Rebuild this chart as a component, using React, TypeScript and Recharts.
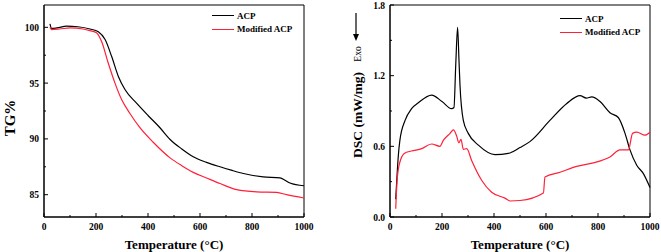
import { LineChart, Line, XAxis, YAxis, ReferenceArea } from 'recharts';

const FONT = '"Liberation Serif", "Times New Roman", serif';
const RED = '#ff2038';

// TG curves
const tgAcpTemp = [23, 29, 50, 87, 130, 177, 209, 235, 260, 286, 312, 356, 400, 446, 485, 530, 574, 625, 677, 720, 767, 843, 908, 927, 946, 1000];
const tgAcp = [100.3, 99.9, 99.95, 100.1, 100.05, 99.85, 99.6, 98.9, 97.4, 95.6, 94.4, 93.2, 92.1, 91.0, 89.95, 89.1, 88.4, 87.9, 87.5, 87.2, 86.9, 86.6, 86.5, 86.3, 86.05, 85.8];
const tgModTemp = [23, 29, 60, 100, 150, 177, 203, 222, 247, 273, 299, 330, 369, 420, 485, 530, 574, 625, 677, 741, 818, 895, 933, 1000];
const tgMod = [100.0, 99.8, 99.85, 99.95, 99.85, 99.7, 99.5, 98.7, 96.8, 95.0, 93.5, 92.3, 91.0, 89.7, 88.3, 87.6, 87.0, 86.5, 86.0, 85.45, 85.25, 85.2, 85.0, 84.7];

// DSC curves
const dscAcpTemp = [22, 27, 32, 38, 58, 83, 109, 160, 200, 237, 246, 253, 260, 265, 269, 282, 301, 340, 404, 455, 500, 538, 615, 680, 731, 755, 776, 808, 846, 878, 904, 923, 949, 974, 1000];
const dscAcp = [0.15, 0.35, 0.52, 0.65, 0.82, 0.92, 0.97, 1.035, 0.98, 0.92, 0.93, 1.3, 1.61, 1.35, 1.13, 0.82, 0.71, 0.61, 0.53, 0.54, 0.59, 0.64, 0.82, 0.964, 1.03, 1.01, 1.02, 0.98, 0.885, 0.845, 0.71, 0.57, 0.44, 0.37, 0.25];
const dscModTemp = [22, 27, 36, 55, 82, 122, 160, 192, 205, 231, 244, 256, 265, 273, 282, 295, 314, 353, 391, 442, 462, 500, 590, 596, 654, 718, 782, 846, 885, 917, 933, 949, 981, 1000];
const dscMod = [0.07, 0.3, 0.45, 0.54, 0.56, 0.58, 0.62, 0.6, 0.65, 0.71, 0.74, 0.69, 0.63, 0.66, 0.575, 0.58, 0.48, 0.31, 0.21, 0.16, 0.136, 0.14, 0.204, 0.34, 0.38, 0.43, 0.46, 0.51, 0.57, 0.57, 0.71, 0.72, 0.695, 0.72];

const xTicks = [0, 100, 200, 300, 400, 500, 600, 700, 800, 900, 1000];
const tgTicks = [85, 87.5, 90, 92.5, 95, 97.5, 100];
const dscTicks = [0, 0.3, 0.6, 0.9, 1.2, 1.5, 1.8];
const seriesNames = ['ACP', 'Modified ACP'];

const pts = (t: number[], v: number[]) => t.map((x, i) => ({ t: x, v: v[i] }));

const tickText = { fontFamily: FONT, fontSize: 9.5, fontWeight: 'bold' as const, fill: '#000' };

function XTick({ x, y, payload }: any) {
  const major = payload.value % 200 === 0;
  return (
    <g>
      <line x1={x} x2={x} y1={y} y2={y - (major ? 4 : 2)} stroke="#000" />
      {major && (
        <text x={x} y={y + 13} textAnchor="middle" {...tickText}>
          {payload.value}
        </text>
      )}
    </g>
  );
}

function makeYTick(isMajor: (v: number) => boolean, fmt: (v: number) => string) {
  return ({ x, y, payload }: any) => {
    const major = isMajor(payload.value);
    return (
      <g>
        <line x1={x} x2={x + (major ? 4 : 2)} y1={y} y2={y} stroke="#000" />
        {major && (
          <text x={x - 5} y={y + 3.5} textAnchor="end" {...tickText}>
            {fmt(payload.value)}
          </text>
        )}
      </g>
    );
  };
}

const TgTick = makeYTick((v) => v % 5 === 0, (v) => String(v));
const DscTick = makeYTick((v) => Math.round(v * 10) % 6 === 0, (v) => v.toFixed(1));

const titleStyle = { fontFamily: FONT, fontSize: 13, fontWeight: 'bold' as const, fill: '#000' };

// rotated y-axis title at a fixed spot
function YTitle({ cx, cy, text, size }: { cx: number; cy: number; text: string; size: number }) {
  return (
    <text
      x={cx}
      y={cy}
      transform={`rotate(-90 ${cx} ${cy})`}
      textAnchor="middle"
      dominantBaseline="central"
      {...titleStyle}
      fontSize={size}
    >
      {text}
    </text>
  );
}

function Legend({ left, top }: { left: number; top: number }) {
  return (
    <div style={{ position: 'absolute', left, top, fontFamily: FONT, fontSize: 9, fontWeight: 'bold' }}>
      {seriesNames.map((name, i) => (
        <div key={name} style={{ display: 'flex', alignItems: 'center', height: 13.5 }}>
          <div style={{ width: 22, height: 0, borderTop: `1.3px solid ${i === 0 ? '#000' : RED}`, marginRight: 3 }} />
          <span>{name}</span>
        </div>
      ))}
    </div>
  );
}

export default function App() {
  return (
    <div style={{ position: 'absolute', left: 0, top: 0, width: 661, height: 252, background: '#fff' }}>
      <div style={{ position: 'absolute', left: 0, top: 0 }}>
        <LineChart width={330} height={252} margin={{ top: 5, right: 26, left: 0, bottom: 0 }}>
          <XAxis
            dataKey="t"
            type="number"
            domain={[0, 1000]}
            ticks={xTicks}
            tick={<XTick />}
            tickLine={false}
            tickSize={0}
            tickMargin={0}
            height={35}
            interval={0}
            axisLine={{ stroke: '#000' }}
            label={{ value: 'Temperature (°C)', position: 'insideBottom', offset: 3, style: titleStyle }}
          />
          <YAxis
            dataKey="v"
            type="number"
            domain={[83, 102]}
            ticks={tgTicks}
            tick={<TgTick />}
            tickLine={false}
            tickSize={0}
            tickMargin={0}
            width={44}
            interval={0}
            axisLine={{ stroke: '#000' }}
            label={<YTitle cx={10} cy={118} text="TG%" size={15} />}
          />
          <ReferenceArea x1={0} x2={1000} y1={83} y2={102} fill="none" stroke="#000" strokeWidth={1} />
          <Line data={pts(tgAcpTemp, tgAcp)} dataKey="v" type="monotone" stroke="#000" strokeWidth={1.2} dot={false} isAnimationActive={false} />
          <Line data={pts(tgModTemp, tgMod)} dataKey="v" type="monotone" stroke={RED} strokeWidth={1.2} dot={false} isAnimationActive={false} />
        </LineChart>
      </div>
      <div style={{ position: 'absolute', left: 330, top: 0 }}>
        <LineChart width={331} height={252} margin={{ top: 5, right: 11, left: 0, bottom: 0 }}>
          <XAxis
            dataKey="t"
            type="number"
            domain={[0, 1000]}
            ticks={xTicks}
            tick={<XTick />}
            tickLine={false}
            tickSize={0}
            tickMargin={0}
            height={35}
            interval={0}
            axisLine={{ stroke: '#000' }}
            label={{ value: 'Temperature (°C)', position: 'insideBottom', offset: 3, style: titleStyle }}
          />
          <YAxis
            dataKey="v"
            type="number"
            domain={[0, 1.8]}
            ticks={dscTicks}
            tick={<DscTick />}
            tickLine={false}
            tickSize={0}
            tickMargin={0}
            width={60}
            interval={0}
            axisLine={{ stroke: '#000' }}
            label={<YTitle cx={27} cy={115} text="DSC (mW/mg)" size={13.5} />}
          />
          <ReferenceArea x1={0} x2={1000} y1={0} y2={1.8} fill="none" stroke="#000" strokeWidth={1} />
          <Line data={pts(dscAcpTemp, dscAcp)} dataKey="v" type="monotone" stroke="#000" strokeWidth={1.2} dot={false} isAnimationActive={false} />
          <Line data={pts(dscModTemp, dscMod)} dataKey="v" type="monotone" stroke={RED} strokeWidth={1.2} dot={false} isAnimationActive={false} />
        </LineChart>
      </div>
      <svg style={{ position: 'absolute', left: 0, top: 0, pointerEvents: 'none' }} width={661} height={252}>
        <line x1={356} x2={356} y1={13} y2={38} stroke="#000" strokeWidth={1.2} />
        <path d="M353,34 L356,41 L359,34 Z" fill="#000" />
        <text x={358} y={54} transform="rotate(-90 358 54)" textAnchor="middle" dominantBaseline="central" fontFamily={FONT} fontSize={9.5}>
          Exo
        </text>
      </svg>
      <Legend left={212} top={9} />
      <Legend left={560} top={12} />
    </div>
  );
}
